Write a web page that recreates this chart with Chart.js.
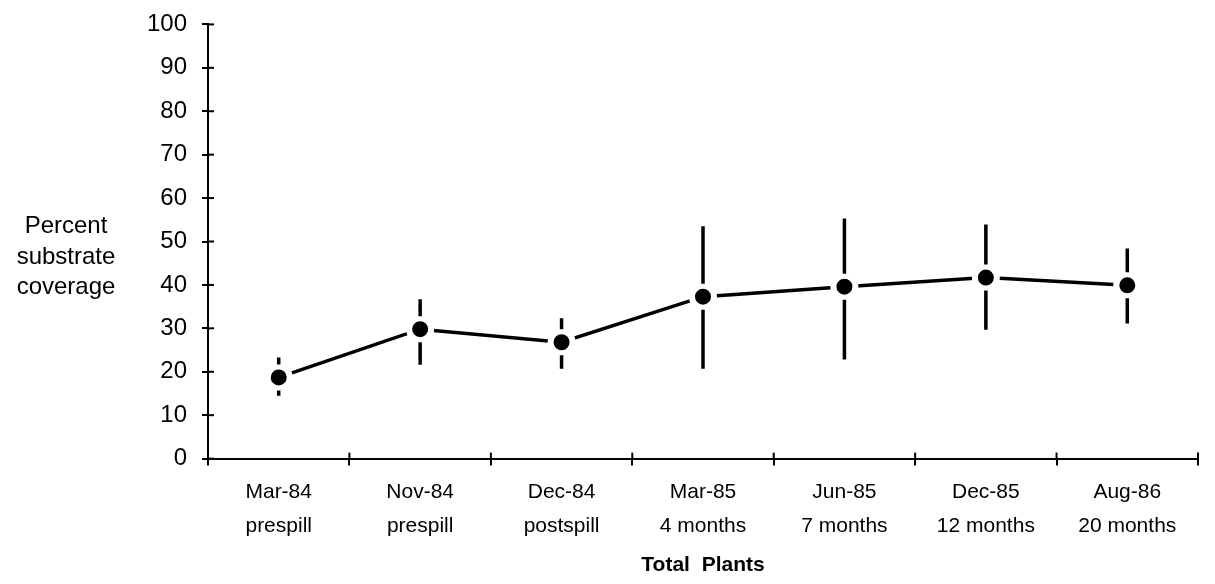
<!DOCTYPE html>
<html>
<head>
<meta charset="utf-8">
<script src="https://cdn.jsdelivr.net/npm/chart.js@4"></script>
<style>
html,body{margin:0;padding:0;background:#fff;}
#wrap{width:1215px;height:584px;position:relative;overflow:hidden;}
#inner{position:absolute;left:0;top:-5px;width:1215px;height:589px;}
</style>
</head>
<body>
<div id="wrap"><div id="inner"><canvas id="c"></canvas></div></div>
<script>
const categories = [
  ['Mar-84','prespill'],
  ['Nov-84','prespill'],
  ['Dec-84','postspill'],
  ['Mar-85','4 months'],
  ['Jun-85','7 months'],
  ['Dec-85','12 months'],
  ['Aug-86','20 months']
];
const coverage = [18.7, 29.8, 26.8, 37.3, 39.6, 41.7, 39.9];
const errHigh  = [23.3, 36.7, 32.3, 53.5, 55.3, 53.9, 48.4];
const errLow   = [14.5, 21.6, 20.7, 20.7, 22.8, 29.7, 31.1];
const yTitleLines = ['Percent','substrate','coverage'];
const xTitle = 'Total  Plants';

const FONT = "'Liberation Sans', Arial, Helvetica, sans-serif";

const extras = {
  id: 'extras',
  afterDatasetsDraw(chart) {
    const ctx = chart.ctx;
    const ys = chart.scales.y;
    const meta = chart.getDatasetMeta(0);
    ctx.save();
    ctx.strokeStyle = '#000';
    ctx.lineWidth = 3.5;
    ctx.lineCap = 'butt';
    const gap = 13;
    meta.data.forEach((pt, i) => {
      const x = pt.x, yc = pt.y;
      const yt = ys.getPixelForValue(errHigh[i]);
      const yb = ys.getPixelForValue(errLow[i]);
      ctx.beginPath();
      if (yt < yc - gap) { ctx.moveTo(x, yt); ctx.lineTo(x, yc - gap); }
      if (yb > yc + gap) { ctx.moveTo(x, yc + gap); ctx.lineTo(x, yb); }
      ctx.stroke();
    });
    ctx.restore();
  },
  afterDraw(chart) {
    const ctx = chart.ctx;
    const ys = chart.scales.y, xs = chart.scales.x;
    ctx.save();
    ctx.strokeStyle = '#000';
    ctx.lineWidth = 2;
    ys.ticks.forEach((t) => {
      const py = ys.getPixelForValue(t.value);
      ctx.beginPath(); ctx.moveTo(ys.right, py); ctx.lineTo(ys.right + 6, py); ctx.stroke();
    });
    const n = categories.length;
    for (let i = 0; i <= n; i++) {
      const px = xs.getPixelForValue(i - 0.5);
      ctx.beginPath(); ctx.moveTo(px, xs.top); ctx.lineTo(px, xs.top - 6); ctx.stroke();
    }
    ctx.fillStyle = '#000';
    ctx.font = "24px " + FONT;
    ctx.textAlign = 'center';
    ctx.textBaseline = 'middle';
    const cx = 66, cy = 262;
    yTitleLines.forEach((s, k) => ctx.fillText(s, cx, cy + (k - 1) * 30.5));
    ctx.restore();
  }
};

new Chart(document.getElementById('c'), {
  type: 'line',
  data: {
    labels: categories,
    datasets: [{
      data: coverage,
      borderColor: '#000',
      borderWidth: 3.5,
      tension: 0,
      pointRadius: 11,
      pointBackgroundColor: '#000',
      pointBorderColor: '#fff',
      pointBorderWidth: 6,
      pointHoverRadius: 11
    }]
  },
  options: {
    responsive: true,
    maintainAspectRatio: false,
    animation: false,
    events: [],
    layout: { padding: { left: 0, right: 13, top: 18, bottom: 6 } },
    plugins: { legend: { display: false }, tooltip: { enabled: false } },
    scales: {
      x: {
        type: 'category',
        offset: true,
        grid: { offset: true, drawOnChartArea: false, color: '#000', lineWidth: 2, tickLength: 7 },
        border: { color: '#000', width: 2 },
        ticks: { color: '#000', font: { family: FONT, size: 21, lineHeight: 1.6 }, padding: 10, maxRotation: 0, autoSkip: false },
        title: { display: true, text: xTitle, color: '#000', font: { family: FONT, size: 21, weight: 'bold' }, padding: { top: 0, bottom: 0 } }
      },
      y: {
        min: 0, max: 100,
        afterFit(scale) { scale.width = 208; },
        grid: { drawOnChartArea: false, color: '#000', lineWidth: 2, tickLength: 6 },
        border: { color: '#000', width: 2 },
        ticks: { stepSize: 10, color: '#000', font: { family: FONT, size: 24 }, padding: 15 }
      }
    }
  },
  plugins: [extras]
});
</script>
</body>
</html>
